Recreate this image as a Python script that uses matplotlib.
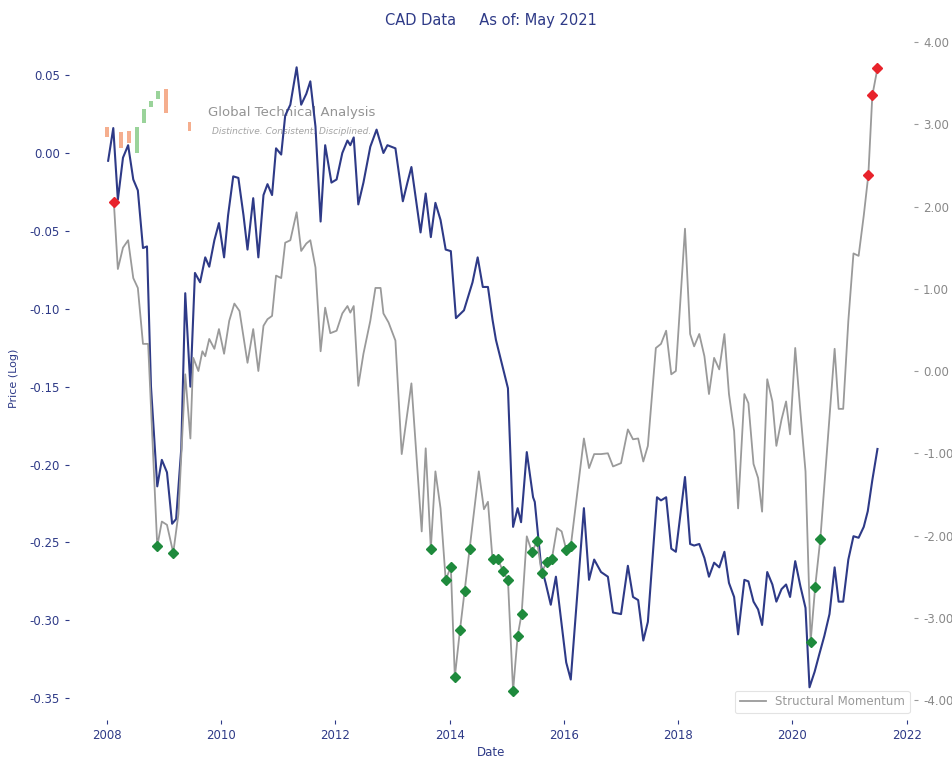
import matplotlib.pyplot as plt
from matplotlib.patches import Rectangle

plt.rcParams['axes.unicode_minus'] = False
plt.rcParams['font.family'] = ['DejaVu Sans']

NAVY = '#2e3a87'
GRAY = '#9a9a9a'

# price (log), left axis
price_years = [2008.02, 2008.11, 2008.19, 2008.28, 2008.37, 2008.46, 2008.54, 2008.63, 2008.70, 2008.77,
               2008.88, 2008.96, 2009.05, 2009.14, 2009.21, 2009.30, 2009.37, 2009.46, 2009.54, 2009.63,
               2009.72, 2009.79, 2009.88, 2009.96, 2010.05, 2010.12, 2010.21, 2010.30, 2010.39, 2010.46,
               2010.56, 2010.65, 2010.74, 2010.81, 2010.89, 2010.96, 2011.05, 2011.12, 2011.21, 2011.32,
               2011.40, 2011.49, 2011.56, 2011.65, 2011.74, 2011.82, 2011.93, 2012.02, 2012.12, 2012.21,
               2012.26, 2012.32, 2012.40, 2012.49, 2012.61, 2012.72, 2012.84, 2012.91, 2013.05, 2013.18,
               2013.26, 2013.33, 2013.49, 2013.58, 2013.67, 2013.75, 2013.84, 2013.93, 2014.02, 2014.11,
               2014.25, 2014.40, 2014.49, 2014.58, 2014.67, 2014.75, 2014.81, 2015.02, 2015.11, 2015.19,
               2015.25, 2015.35, 2015.46, 2015.49, 2015.60, 2015.68, 2015.77, 2015.86, 2016.04, 2016.12,
               2016.35, 2016.44, 2016.53, 2016.65, 2016.77, 2016.86, 2017.00, 2017.12, 2017.21, 2017.30,
               2017.39, 2017.47, 2017.63, 2017.70, 2017.79, 2017.88, 2017.96, 2018.12, 2018.21, 2018.28,
               2018.37, 2018.46, 2018.54, 2018.63, 2018.72, 2018.81, 2018.89, 2018.98, 2019.05, 2019.16,
               2019.23, 2019.32, 2019.40, 2019.47, 2019.56, 2019.65, 2019.72, 2019.81, 2019.89, 2019.96,
               2020.05, 2020.14, 2020.23, 2020.30, 2020.39, 2020.47, 2020.56, 2020.65, 2020.74, 2020.81,
               2020.89, 2020.98, 2021.07, 2021.16, 2021.25, 2021.32, 2021.40, 2021.49]
price = [-0.005, 0.016, -0.030, -0.003, 0.005, -0.017, -0.024, -0.061, -0.060, -0.150,
         -0.214, -0.197, -0.205, -0.238, -0.235, -0.190, -0.090, -0.150, -0.077, -0.083,
         -0.067, -0.073, -0.056, -0.045, -0.067, -0.040, -0.015, -0.016, -0.040, -0.062,
         -0.029, -0.067, -0.027, -0.020, -0.027, 0.003, -0.001, 0.024, 0.031, 0.055,
         0.031, 0.038, 0.046, 0.017, -0.044, 0.005, -0.019, -0.017, 0.000, 0.008,
         0.005, 0.010, -0.033, -0.019, 0.004, 0.015, 0.000, 0.005, 0.003, -0.031,
         -0.019, -0.009, -0.051, -0.026, -0.054, -0.032, -0.043, -0.062, -0.063, -0.106,
         -0.101, -0.083, -0.067, -0.086, -0.086, -0.107, -0.120, -0.151, -0.240, -0.228,
         -0.237, -0.192, -0.221, -0.224, -0.265, -0.276, -0.290, -0.272, -0.327, -0.338,
         -0.228, -0.274, -0.261, -0.269, -0.272, -0.295, -0.296, -0.265, -0.285, -0.287,
         -0.313, -0.301, -0.221, -0.223, -0.221, -0.254, -0.256, -0.208, -0.251, -0.252,
         -0.251, -0.260, -0.272, -0.263, -0.266, -0.256, -0.276, -0.285, -0.309, -0.274,
         -0.275, -0.288, -0.293, -0.303, -0.269, -0.277, -0.288, -0.280, -0.277, -0.285,
         -0.262, -0.278, -0.292, -0.343, -0.333, -0.322, -0.310, -0.296, -0.266, -0.288,
         -0.288, -0.261, -0.246, -0.247, -0.240, -0.230, -0.210, -0.190]

# structural momentum, right axis
mom_years = [2008.12, 2008.19, 2008.28, 2008.37, 2008.46, 2008.54, 2008.63, 2008.72, 2008.88, 2008.96,
             2009.05, 2009.16, 2009.25, 2009.37, 2009.46, 2009.51, 2009.60, 2009.67, 2009.72, 2009.79,
             2009.88, 2009.96, 2010.05, 2010.14, 2010.23, 2010.32, 2010.46, 2010.56, 2010.65, 2010.74,
             2010.81, 2010.89, 2010.96, 2011.05, 2011.12, 2011.21, 2011.32, 2011.40, 2011.49, 2011.56,
             2011.65, 2011.74, 2011.82, 2011.91, 2012.02, 2012.12, 2012.21, 2012.26, 2012.32, 2012.40,
             2012.49, 2012.61, 2012.70, 2012.79, 2012.84, 2012.93, 2013.05, 2013.16, 2013.33, 2013.51,
             2013.58, 2013.67, 2013.75, 2013.84, 2013.93, 2014.02, 2014.09, 2014.18, 2014.26, 2014.35,
             2014.51, 2014.60, 2014.67, 2014.75, 2014.84, 2014.93, 2015.02, 2015.11, 2015.19, 2015.26,
             2015.35, 2015.44, 2015.53, 2015.61, 2015.70, 2015.79, 2015.88, 2015.96, 2016.04, 2016.12,
             2016.35, 2016.44, 2016.53, 2016.65, 2016.77, 2016.86, 2017.00, 2017.12, 2017.21, 2017.30,
             2017.39, 2017.47, 2017.61, 2017.70, 2017.79, 2017.88, 2017.96, 2018.12, 2018.21, 2018.28,
             2018.37, 2018.46, 2018.54, 2018.63, 2018.72, 2018.81, 2018.89, 2018.98, 2019.05, 2019.16,
             2019.23, 2019.32, 2019.40, 2019.47, 2019.56, 2019.65, 2019.72, 2019.81, 2019.89, 2019.96,
             2020.05, 2020.14, 2020.23, 2020.32, 2020.40, 2020.49, 2020.74, 2020.81, 2020.89, 2020.98,
             2021.07, 2021.16, 2021.25, 2021.33, 2021.40, 2021.49]
momentum = [2.05, 1.24, 1.50, 1.59, 1.13, 1.01, 0.33, 0.33, -2.13, -1.83,
            -1.87, -2.21, -1.74, -0.04, -0.82, 0.16, 0.00, 0.24, 0.18, 0.39,
            0.27, 0.51, 0.21, 0.61, 0.82, 0.73, 0.10, 0.51, 0.00, 0.55,
            0.63, 0.67, 1.16, 1.13, 1.56, 1.59, 1.93, 1.46, 1.55, 1.59,
            1.26, 0.24, 0.77, 0.46, 0.49, 0.70, 0.79, 0.71, 0.79, -0.18,
            0.21, 0.61, 1.01, 1.01, 0.70, 0.59, 0.37, -1.01, -0.15, -1.95,
            -0.94, -2.16, -1.22, -1.67, -2.54, -2.38, -3.72, -3.15, -2.68, -2.16,
            -1.22, -1.68, -1.59, -2.29, -2.28, -2.43, -2.54, -3.89, -3.22, -2.95,
            -2.01, -2.20, -2.07, -2.45, -2.32, -2.28, -1.91, -1.95, -2.17, -2.13,
            -0.82, -1.18, -1.01, -1.01, -1.00, -1.16, -1.12, -0.71, -0.83, -0.82,
            -1.10, -0.91, 0.28, 0.33, 0.49, -0.04, 0.00, 1.73, 0.45, 0.30,
            0.45, 0.18, -0.28, 0.16, 0.02, 0.45, -0.28, -0.73, -1.67, -0.28,
            -0.39, -1.13, -1.30, -1.71, -0.10, -0.37, -0.91, -0.59, -0.37, -0.77,
            0.28, -0.49, -1.22, -3.29, -2.62, -2.04, 0.27, -0.46, -0.46, 0.61,
            1.43, 1.40, 1.89, 2.38, 3.35, 3.68]

buy_years = [2008.88, 2009.16, 2013.67, 2013.93, 2014.02, 2014.09, 2014.18, 2014.26, 2014.35,
             2014.75, 2014.84, 2014.93, 2015.02, 2015.11, 2015.19, 2015.26, 2015.44, 2015.53,
             2015.61, 2015.70, 2015.79, 2016.04, 2016.12, 2020.32, 2020.40, 2020.49]
sell_years = [2008.12, 2021.33, 2021.40, 2021.49]

mom_lookup = dict(zip(mom_years, momentum))
buy_vals = [mom_lookup[y] for y in buy_years]
sell_vals = [mom_lookup[y] for y in sell_years]

fig = plt.figure(figsize=(9.52, 7.58), dpi=100)

# watermark logo, sits behind the chart
logo = fig.add_axes([0.105, 0.78, 0.1, 0.11])
logo.set_xlim(100, 195)
logo.set_ylim(165, 85)
logo.axis('off')
bars_x = [107, 121, 129, 137, 144, 151, 158, 166, 189]
bars_top = [127, 132, 131, 127, 110, 102, 92, 90, 122]
bars_bot = [136, 147, 142, 152, 123, 108, 100, 113, 131]
bars_col = ['#f4a582', '#f4a582', '#f4a582', '#8fcf8f', '#8fcf8f', '#8fcf8f', '#8fcf8f',
            '#f4a582', '#f4a582']
for bx, bt, bb, bc in zip(bars_x, bars_top, bars_bot, bars_col):
    logo.add_patch(Rectangle((bx - 1.6, bt), 3.2, bb - bt, color=bc, alpha=0.9, lw=0))
logo.set_zorder(-1)
fig.text(0.306, 0.851, 'Global Technical Analysis', ha='center', va='center',
         color='#888888', fontsize=9.5, alpha=0.9, zorder=-1)
fig.text(0.306, 0.827, 'Distinctive. Consistent. Disciplined.', ha='center', va='center',
         color='#999999', fontsize=6.5, style='italic', alpha=0.9, zorder=-1)

ax = fig.add_axes([0.0725, 0.0501, 0.8876, 0.9024])
ax.patch.set_visible(False)
ax2 = ax.twinx()

ax.plot(price_years, price, color=NAVY, lw=1.5)
ax2.plot(mom_years, momentum, color=GRAY, lw=1.3, label='Structural Momentum')
ax2.plot(buy_years, buy_vals, 'D', color='#1e8a3c', ms=5.5, ls='none')
ax2.plot(sell_years, sell_vals, 'D', color='#e8232b', ms=5.5, ls='none')

ax.set_xlim(2007.335, 2022.13)
ax.set_ylim(-0.364, 0.0751)
ax2.set_ylim(-4.243, 4.073)
ax.set_xticks(range(2008, 2023, 2))
ax.set_yticks([0.05, 0.0, -0.05, -0.10, -0.15, -0.20, -0.25, -0.30, -0.35])
ax.set_yticklabels(['%.2f' % v for v in ax.get_yticks()])
ax2.set_yticks([4, 3, 2, 1, 0, -1, -2, -3, -4])
ax2.set_yticklabels(['%.2f' % v for v in ax2.get_yticks()])

for a in (ax, ax2):
    for s in a.spines.values():
        s.set_visible(False)
ax.tick_params(axis='both', colors=NAVY, labelsize=8.5, length=3, width=0.8)
ax2.tick_params(axis='y', colors=GRAY, labelcolor='#888888', labelsize=8.5, length=3, width=0.8)

ax.set_xlabel('Date', color=NAVY, fontsize=8.5, labelpad=3)
ax.set_ylabel('Price (Log)', color=NAVY, fontsize=8, labelpad=8)

fig.text(0.516, 0.973, 'CAD Data     As of: May 2021', ha='center', va='center',
         color=NAVY, fontsize=10.5)

leg = ax2.legend(loc='lower right', bbox_to_anchor=(0.995, 0.01), borderaxespad=0,
                 fontsize=8.5, labelcolor='#999999', frameon=True, handlelength=2.2)
leg.get_frame().set_edgecolor('#dddddd')
leg.get_frame().set_linewidth(0.8)

fig.savefig('out.png', dpi=100)
